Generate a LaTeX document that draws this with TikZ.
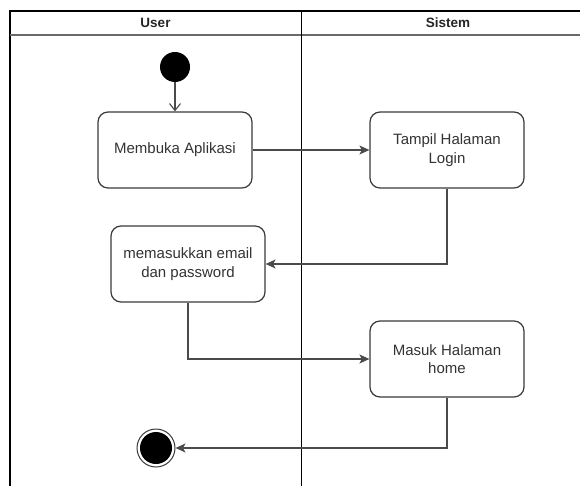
\documentclass[tikz,border=0pt]{standalone}
\usepackage{fontspec}
\setmainfont{Liberation Sans}
\usetikzlibrary{arrows.meta}

\definecolor{boxline}{HTML}{3A3A3A}
\definecolor{edgeline}{HTML}{4A4A4A}
\definecolor{txt}{HTML}{333333}
\definecolor{headline}{HTML}{6A6A6A}

\tikzset{
  action/.style={draw=boxline, line width=1.2pt, rounded corners=10pt, fill=white,
    minimum width=154pt, minimum height=76pt, inner sep=0pt, align=center,
    text=txt, font=\fontsize{15}{18.5}\selectfont},
  flow/.style={draw=edgeline, line width=1.2pt,
    -{Stealth[length=10pt, width=9pt, inset=2.5pt]}},
  lanetitle/.style={font=\bfseries\fontsize{13.5}{16}\selectfont, text=black!85},
  startdot/.style={circle, fill=black, minimum size=30pt, inner sep=0pt},
  endring/.style={circle, draw=boxline, line width=1pt, fill=white,
    minimum size=38pt, inner sep=0pt},
}

\begin{document}
\begin{tikzpicture}[x=1pt, y=-1pt]
  \useasboundingbox (0,0) rectangle (580,486);

  % swimlane frame and headers
  \draw[black, line width=1.1pt] (10,486) -- (10,11) -- (600,11);
  \draw[headline, line width=1.6pt] (10,35) -- (600,35);
  \draw[black, line width=0.9pt] (301,11) -- (301,486);
  \node[lanetitle] (laneUser) at (155.5,23) {User};
  \node[lanetitle] (laneSistem) at (448,23) {Sistem};

  % activities
  \node[startdot] (start) at (175,67) {};
  \node[action] (buka) at (175,150) {Membuka Aplikasi};
  \node[action] (login) at (447,150) {Tampil Halaman\\Login};
  \node[action] (input) at (188,264) {memasukkan email\\dan password};
  \node[action] (home) at (447,359) {Masuk Halaman\\home};
  \node[endring] (stop) at (156,448) {};
  \fill[black] (stop.center) circle (16pt);

  % transitions
  \draw[draw=edgeline, line width=1.1pt, -{Straight Barb[length=7pt, width=11pt]}]
    (start) -- (buka);
  \draw[flow] (buka) -- (login);
  \draw[flow] (login.south) |- (input.east);
  \draw[flow] (input.south) |- (home.west);
  \draw[flow] (home.south) |- (stop.east);
\end{tikzpicture}
\end{document}
